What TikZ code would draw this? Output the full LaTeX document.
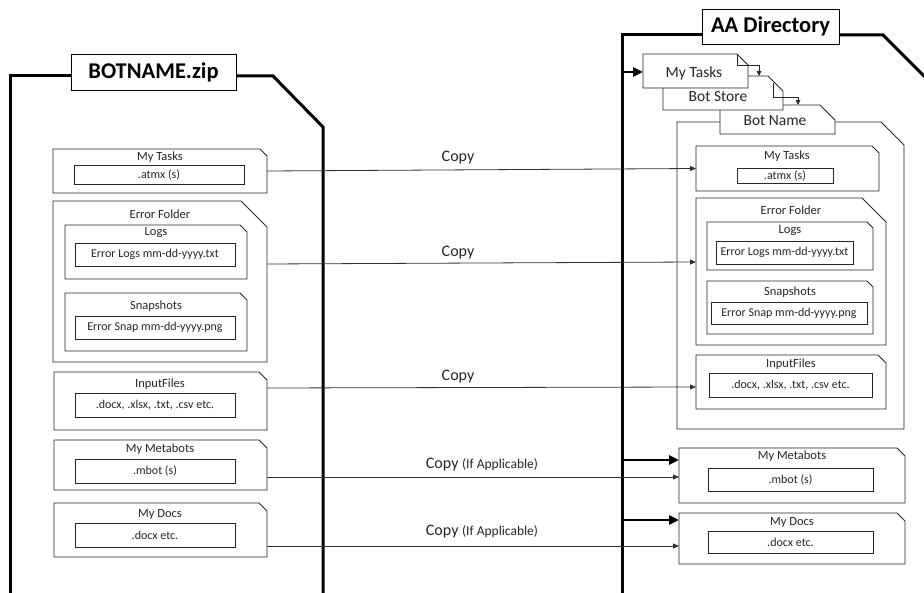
\documentclass[tikz,border=0pt]{standalone}
\usepackage{fontspec}
\setmainfont{Carlito}
\usetikzlibrary{arrows.meta,calc}
\tikzset{
 boxline/.style={draw=black!85, line width=0.8pt},
 region/.style={inner sep=0pt, outer sep=0pt, draw=none},
 item/.style={draw=black!85, line width=0.8pt, inner sep=0pt, font=\fontsize{12}{14}\selectfont, text=black!85},
 hdr/.style={inner sep=0pt, font=\fontsize{12.5}{15}\selectfont, text=black!85},
 toplbl/.style={inner sep=0pt, font=\fontsize{15.5}{18}\selectfont, text=black!85},
 titlebox/.style={draw=black, line width=0.9pt, fill=white, inner sep=0pt, font=\bfseries\fontsize{22.5}{26}\selectfont},
 heavy/.style={line width=3pt, black, line join=miter},
 heavyarrow/.style={line width=2.5pt, black, -{Triangle[length=10pt,width=9pt]}},
 copyline/.style={draw=black!80, line width=0.8pt, -{Triangle[length=6pt,width=5pt]}},
 smallarrow/.style={draw=black!85, line width=0.8pt, -{Triangle[length=5pt,width=4.5pt]}},
 copylbl/.style={inner sep=0pt, font=\fontsize{16}{19}\selectfont, text=black!85},
}
\newcommand\mkfolder[6]{%
 \node[region, minimum width={(#4-#2)*1pt}, minimum height={(#5-#3)*1pt}] (#1) at ({(#2+#4)/2},{(#3+#5)/2}) {};
 \draw[boxline, fill=white] (#1.north west) -- ([xshift=-#6pt]#1.north east) -- ([yshift=-#6pt]#1.north east) -- (#1.south east) -- (#1.south west) -- cycle;
}
\newcommand\mkitem[6]{%
 \node[item, minimum width={(#4-#2)*1pt}, minimum height={(#5-#3)*1pt}] (#1) at ({(#2+#4)/2},{(#3+#5)/2}) {#6};
}
\begin{document}
\begin{tikzpicture}[x=1pt,y=-1pt]
\useasboundingbox (0,0) rectangle (924,593);
\fill[white] (0,0) rectangle (924,593);

% ---------- left: BOTNAME.zip ----------
\node[titlebox, minimum width=165pt, minimum height=36pt] (lzip) at (153.5,72) {BOTNAME.zip};
\draw[heavy] (10,593) -- (10,76) -- (lzip.west |- 0,76);
\draw[heavy] (lzip.east |- 0,76) -- (273,76) -- (323,127) -- (323,593);

\mkfolder{ltasks}{53}{149}{267}{193}{7}
\node[hdr] (ltasks-h) at (160,157) {My Tasks};
\mkitem{ltasks-i}{74}{165}{244}{184}{.atmx (s)}

\mkfolder{lerr}{53}{201}{267}{362}{26}
\node[hdr] (lerr-h) at (160,214) {Error Folder};
\mkfolder{llogs}{65}{225}{247}{279}{7}
\node[hdr] (llogs-h) at (156,233) {Logs};
\mkitem{llogs-i}{75}{243}{235}{266}{Error Logs mm-dd-yyyy.txt}
\mkfolder{lsnap}{65}{293}{247}{351}{7}
\node[hdr] (lsnap-h) at (156,306) {Snapshots};
\mkitem{lsnap-i}{75}{316}{235}{339}{Error Snap mm-dd-yyyy.png}

\mkfolder{linput}{54}{372}{267}{430}{8}
\node[hdr] (linput-h) at (160,384) {InputFiles};
\mkitem{linput-i}{75}{393}{235}{417}{.docx, .xlsx, .txt, .csv etc.}

\mkfolder{lmeta}{54}{440}{267}{490}{8}
\node[hdr] (lmeta-h) at (160,449) {My Metabots};
\mkitem{lmeta-i}{75}{459}{235}{483}{.mbot (s)}

\mkfolder{ldocs}{54}{503}{267}{557}{8}
\node[hdr] (ldocs-h) at (160,514) {My Docs};
\mkitem{ldocs-i}{75}{523}{235}{547}{.docx etc.}

% ---------- right: AA Directory ----------
\node[titlebox, minimum width=137pt, minimum height=35pt] (aa) at (770.5,26.5) {AA Directory};
\draw[heavy] (622,593) -- (622,35) -- (aa.west |- 0,35);
\draw[heavy] (aa.east |- 0,35) -- (883,35) -- (925,77);
\coordinate (sp1) at (622,72);
\coordinate (sp2) at (622,460);
\coordinate (sp3) at (622,520);

\mkfolder{rbot}{677}{122}{904}{429}{23}
\mkfolder{rbotname}{720}{105}{835}{134}{15}
\mkfolder{rstore}{663}{76}{783}{110}{15}
\mkfolder{rtop}{643}{54}{748}{88}{11}
\node[toplbl] (rbotname-h) at (775,121) {Bot Name};
\node[toplbl] (rstore-h) at (718,97) {Bot Store};
\node[toplbl] (rtop-h) at (694,73) {My Tasks};
\draw[boxline] (737,54) -- (737,65) -- (759,65);
\draw[smallarrow] (759,65) -- (rstore.north -| 759,0);
\draw[boxline] (773,83) -- (773,97) -- (798,97);
\draw[smallarrow] (798,97) -- (rbotname.north -| 798,0);
\draw[heavyarrow] (sp1) -- (rtop.west |- sp1);

\mkfolder{rtasks}{696}{146}{879}{191}{7}
\node[hdr] (rtasks-h) at (787,156) {My Tasks};
\mkitem{rtasks-i}{737}{168}{833}{183}{.atmx (s)}

\mkfolder{rerr}{696}{198}{886}{345}{24}
\node[hdr] (rerr-h) at (791,210) {Error Folder};
\mkfolder{rlogs}{707}{222}{873}{270}{6}
\node[hdr] (rlogs-h) at (790,231) {Logs};
\mkitem{rlogs-i}{716}{241}{853}{264}{Error Logs mm-dd-yyyy.txt}
\mkfolder{rsnap}{707}{281}{873}{334}{6}
\node[hdr] (rsnap-h) at (790,292) {Snapshots};
\mkitem{rsnap-i}{711}{302}{867}{324}{Error Snap mm-dd-yyyy.png}

\mkfolder{rinput}{696}{355}{886}{409}{8}
\node[hdr] (rinput-h) at (791,364) {InputFiles};
\mkitem{rinput-i}{709}{373}{872}{397}{.docx, .xlsx, .txt, .csv etc.}

\mkfolder{rmeta}{679}{448}{905}{503}{8}
\node[hdr] (rmeta-h) at (792,456) {My Metabots};
\mkitem{rmeta-i}{708}{468}{873}{491}{.mbot (s)}

\mkfolder{rdocs}{679}{513}{905}{564}{8}
\node[hdr] (rdocs-h) at (792,522) {My Docs};
\mkitem{rdocs-i}{708}{531}{873}{553}{.docx etc.}

\draw[heavyarrow] (sp2) -- (rmeta.west |- sp2);
\draw[heavyarrow] (sp3) -- (rdocs.west |- sp3);

% ---------- copy connectors ----------
\draw[copyline] (ltasks.east) -- (rtasks.west);
\draw[copyline] (lerr.east |- 0,264) -- (rerr.west |- 0,262);
\draw[copyline] (linput.east |- 0,388) -- (rinput.west |- 0,387);
\draw[copyline] (lmeta.east |- 0,477) -- (rmeta.west |- 0,477);
\draw[copyline] (ldocs.east |- 0,546) -- (rdocs.west |- 0,546);

\node[copylbl] (cp1) at (458,158) {Copy};
\node[copylbl] (cp2) at (458,253) {Copy};
\node[copylbl] (cp3) at (458,377) {Copy};
\node[copylbl] (cp4) at (482,465) {Copy {\fontsize{13.5}{16}\selectfont(If Applicable)}};
\node[copylbl] (cp5) at (482,532) {Copy {\fontsize{13.5}{16}\selectfont(If Applicable)}};
\end{tikzpicture}
\end{document}
